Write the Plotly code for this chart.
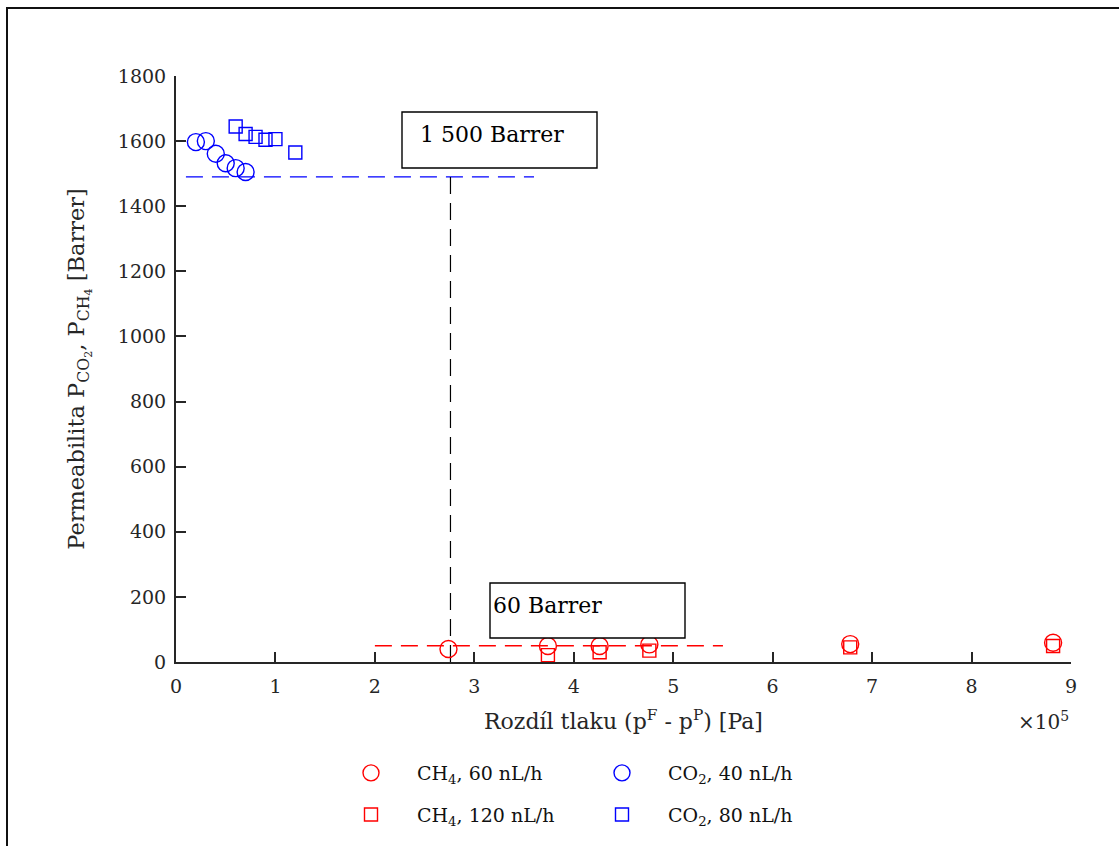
import plotly.graph_objects as go

# Pressure difference in Pa, permeability in Barrer
co2_40_x = [20000, 30000, 40000, 50000, 60000, 70000]
co2_40_p = [1597, 1600, 1561, 1532, 1517, 1505]
co2_80_x = [60000, 70000, 80000, 90000, 100000, 120000]
co2_80_p = [1645, 1622, 1613, 1604, 1606, 1565]
ch4_60_x = [274000, 374000, 426000, 476000, 678000, 882000]
ch4_60_p = [40, 49, 49, 54, 55, 59]
ch4_120_x = [374000, 426000, 476000, 678000, 882000]
ch4_120_p = [21, 30, 35, 45, 49]

# Reference levels
co2_level = 1490
co2_level_x = [10000, 360000]
ch4_level = 50
ch4_level_x = [200000, 550000]
marker_x = 276000

x_ticks = [0, 100000, 200000, 300000, 400000, 500000, 600000, 700000, 800000, 900000]
x_tick_text = ["0", "1", "2", "3", "4", "5", "6", "7", "8", "9"]

FONT = "DejaVu Serif"
RED = "#ff0000"
BLUE = "#0000ff"
AX = "#262626"

fig = go.Figure()

fig.add_trace(go.Scatter(x=co2_level_x, y=[co2_level, co2_level], mode="lines",
                         line=dict(color=BLUE, width=1.4, dash="17px,9px"),
                         showlegend=False, hoverinfo="skip"))
fig.add_trace(go.Scatter(x=ch4_level_x, y=[ch4_level, ch4_level], mode="lines",
                         line=dict(color=RED, width=1.4, dash="17px,9px"),
                         showlegend=False, hoverinfo="skip"))
fig.add_trace(go.Scatter(x=[marker_x, marker_x], y=[0, co2_level], mode="lines",
                         line=dict(color="#000000", width=1.2, dash="17px,9px"),
                         showlegend=False, hoverinfo="skip"))

fig.add_trace(go.Scatter(x=ch4_60_x, y=ch4_60_p, mode="markers", name="CH<sub>4</sub>, 60 nL/h",
                         marker=dict(symbol="circle-open", size=17, color=RED, line=dict(width=1.4)),
                         legend="legend", legendgroup="a"))
fig.add_trace(go.Scatter(x=ch4_120_x, y=ch4_120_p, mode="markers", name="CH<sub>4</sub>, 120 nL/h",
                         marker=dict(symbol="square-open", size=13, color=RED, line=dict(width=1.4)),
                         legend="legend", legendgroup="b"))
fig.add_trace(go.Scatter(x=co2_40_x, y=co2_40_p, mode="markers", name="CO<sub>2</sub>, 40 nL/h",
                         marker=dict(symbol="circle-open", size=17, color=BLUE, line=dict(width=1.4)),
                         legend="legend2", legendgroup="c"))
fig.add_trace(go.Scatter(x=co2_80_x, y=co2_80_p, mode="markers", name="CO<sub>2</sub>, 80 nL/h",
                         marker=dict(symbol="square-open", size=13, color=BLUE, line=dict(width=1.4)),
                         legend="legend2", legendgroup="d"))

W, H = 1119, 846
L, R, T, B = 176, 48, 76, 184
pw, ph = W - L - R, H - T - B


def px(xp):
    return (xp - L) / pw


def py(yp):
    return (H - B - yp) / ph


legend_common = dict(font=dict(family=FONT, size=19, color="#111111"), bgcolor="rgba(0,0,0,0)",
                     itemwidth=82, tracegroupgap=14, xanchor="left", yanchor="top",
                     orientation="v", traceorder="grouped")

y_title = "Permeabilita P<sub>CO<sub>2</sub></sub>, P<sub>CH<sub>4</sub></sub> [Barrer]"

fig.update_layout(
    width=W, height=H,
    margin=dict(l=L, r=R, t=T, b=B),
    paper_bgcolor="white", plot_bgcolor="white",
    font=dict(family=FONT, size=19, color=AX),
    xaxis=dict(range=[0, 900000], tickvals=x_ticks, ticktext=x_tick_text,
               showgrid=False, zeroline=False, showline=True, linecolor=AX, linewidth=2,
               ticks="inside", ticklen=10, tickwidth=2, tickcolor=AX, ticklabelstandoff=6,
               tickfont=dict(family=FONT, size=19, color=AX),
               title=dict(text="Rozdíl tlaku (p<sup>F</sup> - p<sup>P</sup>) [Pa]",
                          font=dict(family=FONT, size=22, color=AX), standoff=18)),
    yaxis=dict(range=[0, 1800], dtick=200, showgrid=False, zeroline=False, showline=True,
               linecolor=AX, linewidth=2, ticks="inside", ticklen=10, tickwidth=2, tickcolor=AX,
               ticklabelstandoff=4,
               tickfont=dict(family=FONT, size=19, color=AX),
               title=dict(text=y_title, font=dict(family=FONT, size=22.5, color=AX), standoff=27)),
    legend=dict(x=px(325), y=py(754), **legend_common),
    legend2=dict(x=px(576), y=py(754), **legend_common),
    showlegend=True,
)

# Text boxes
boxes = [
    dict(x0=402, x1=597, y0=112, y1=168, text="1 500 Barrer", tx=418, ty=134),
    dict(x0=490, x1=685, y0=583, y1=638, text="60 Barrer", tx=491, ty=605),
]
for b in boxes:
    fig.add_shape(type="rect", xref="paper", yref="paper",
                  x0=px(b["x0"]), x1=px(b["x1"]), y0=py(b["y1"]), y1=py(b["y0"]),
                  line=dict(color="#000000", width=1.4), fillcolor="white", layer="above")
    fig.add_annotation(xref="paper", yref="paper", x=px(b["tx"]), y=py(b["ty"]),
                       text=b["text"], showarrow=False, xanchor="left", yanchor="middle",
                       font=dict(family=FONT, size=22, color="#000000"))

# Axis multiplier
fig.add_annotation(xref="paper", yref="paper", x=1.0, y=py(721), text="×10<sup>5</sup>",
                   showarrow=False, xanchor="right", yanchor="middle",
                   font=dict(family=FONT, size=20, color=AX))

# Outer frame
fig.add_shape(type="rect", xref="paper", yref="paper",
              x0=px(7), x1=px(1130), y0=py(860), y1=py(8),
              line=dict(color="#111111", width=2), fillcolor="rgba(0,0,0,0)")

fig.write_html("out.html")
